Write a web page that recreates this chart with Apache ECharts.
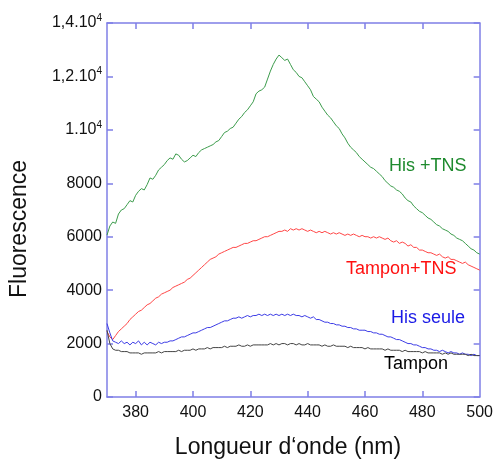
<!DOCTYPE html>
<html>
<head>
<meta charset="utf-8">
<script src="https://cdn.jsdelivr.net/npm/echarts@6/dist/echarts.min.js"></script>
<style>
html,body{margin:0;padding:0;background:#fff;}
#chart{width:496px;height:460px;}
</style>
</head>
<body>
<div id="chart"></div>
<script>
// Wavelength sampling grid (nm)
const wlStart = 370;
const wlStep = 1;

// Series values (one per nm, 370..500)
const hisTNS = [
6060,6400,6550,6500,6850,7000,7050,7200,7350,7300,
7550,7700,7800,7750,7950,8200,8150,8300,8500,8600,
8700,8850,8950,8900,9100,9050,8900,8800,8850,8950,
9050,9000,9150,9250,9300,9350,9400,9450,9550,9600,
9750,9900,9950,10050,10100,10250,10400,10500,10650,10750,
10900,11050,11350,11450,11500,11600,11900,12200,12450,12650,
12800,12700,12600,12650,12450,12250,12150,12000,11950,11800,
11650,11500,11250,11150,11050,10850,10700,10550,10450,10300,
10150,10050,9850,9700,9500,9350,9250,9150,9000,8900,
8800,8700,8600,8550,8450,8350,8250,8100,8000,7900,
7850,7750,7700,7600,7450,7350,7300,7150,7050,6950,
6900,6800,6700,6650,6550,6450,6400,6300,6250,6200,
6100,6050,5950,5900,5850,5750,5650,5550,5500,5400,
5350];
const tamponTNS = [
2450,2250,2150,2300,2450,2550,2650,2750,2900,3000,
3100,3200,3250,3350,3450,3500,3600,3700,3750,3850,
3900,3950,4000,4100,4150,4200,4250,4300,4400,4450,
4550,4650,4750,4850,4950,5050,5150,5200,5250,5350,
5400,5450,5500,5550,5600,5600,5650,5700,5750,5750,
5800,5850,5850,5900,5950,6000,6000,6050,6100,6150,
6200,6200,6250,6200,6300,6250,6300,6250,6300,6250,
6200,6250,6200,6150,6200,6150,6200,6150,6100,6150,
6100,6150,6100,6050,6100,6050,6100,6050,6000,6050,
6000,6000,5950,6000,5950,6000,5950,5900,5950,5850,
5800,5850,5750,5800,5750,5650,5700,5600,5600,5500,
5500,5450,5400,5400,5350,5300,5350,5250,5200,5250,
5150,5150,5100,5050,5000,5050,4950,4900,4850,4800,
4750];
const hisSeule = [
2750,2400,2100,2050,2000,2100,2000,2050,1950,2050,
2000,2100,1950,2050,1950,2050,2000,1950,2050,2000,
2050,2050,2100,2100,2150,2200,2250,2250,2300,2350,
2400,2400,2450,2500,2550,2600,2600,2650,2700,2750,
2800,2850,2850,2900,2950,2950,3000,2950,3000,3050,
3000,3050,3050,3100,3050,3100,3050,3100,3050,3100,
3050,3100,3050,3100,3050,3100,3050,3050,3000,3050,
3000,2950,3000,2900,2900,2850,2800,2800,2750,2750,
2700,2700,2650,2650,2600,2600,2550,2550,2500,2500,
2500,2450,2450,2400,2400,2350,2350,2300,2250,2250,
2200,2150,2150,2100,2050,2000,2000,1950,1950,1900,
1850,1850,1800,1800,1750,1750,1700,1750,1700,1650,
1700,1650,1650,1600,1650,1600,1600,1550,1600,1550,
1550];
const tampon = [
2500,2000,1800,1750,1750,1700,1700,1700,1650,1650,
1650,1650,1600,1650,1650,1650,1650,1650,1700,1650,
1700,1700,1700,1700,1700,1750,1700,1750,1750,1750,
1800,1750,1800,1800,1800,1850,1800,1850,1850,1850,
1850,1900,1850,1900,1900,1900,1950,1900,1900,1950,
1900,1950,1950,1950,1950,1950,1950,2000,1950,2000,
1950,2000,2000,1950,2000,2000,1950,2000,1950,1950,
2000,1950,1950,1950,1950,1900,1950,1900,1900,1950,
1900,1900,1900,1900,1850,1900,1850,1850,1850,1850,
1800,1850,1800,1800,1800,1800,1800,1750,1800,1750,
1750,1750,1750,1700,1750,1700,1700,1700,1700,1700,
1650,1700,1650,1650,1650,1650,1650,1600,1650,1600,
1650,1600,1600,1600,1600,1600,1550,1600,1550,1550,
1550];

// Axis ticks and labels
const xTicks = [380, 400, 420, 440, 460, 480];
const xLabels = [380, 400, 420, 440, 460, 480, 500];
const yTickValues = [0, 2000, 4000, 6000, 8000, 10000, 12000, 14000];
const yTickBase = ['0', '2000', '4000', '6000', '8000', '1.10', '1,2.10', '1,4.10'];
const yTickExp = ['', '', '', '', '', '4', '4', '4'];

const seriesNames = ['His +TNS', 'Tampon+TNS', 'His seule', 'Tampon'];
const xTitle = 'Longueur d\u2018onde (nm)';
const yTitle = 'Fluorescence';

function pairs(vals) {
  return vals.map((v, i) => [wlStart + i * wlStep, v]);
}

const FONT = 'Liberation Sans, Arial, sans-serif';
const axisCol = '#7f7fe6';
const chart = echarts.init(document.getElementById('chart'), null, {renderer: 'canvas'});

const grid = {left: 107, right: 15, top: 23, bottom: 63};

function yLabel(v) {
  const i = yTickValues.indexOf(v);
  if (i < 0) return '';
  if (yTickExp[i]) return '{b|' + yTickBase[i] + '}{s|' + yTickExp[i] + '}';
  return '{b|' + yTickBase[i] + '}';
}

const option = {
  animation: false,
  backgroundColor: '#fff',
  grid: grid,
  xAxis: [{
    type: 'value', min: 370, max: 500, position: 'bottom',
    axisLine: {show: true, onZero: false, lineStyle: {color: axisCol, width: 1.5}},
    axisTick: {show: true, inside: true, length: 6, customValues: xTicks, lineStyle: {color: axisCol, width: 1.5}},
    axisLabel: {show: true, customValues: xLabels, margin: 8, fontSize: 16, color: '#111', fontFamily: FONT},
    splitLine: {show: false}
  }, {
    type: 'value', min: 370, max: 500, position: 'top',
    axisLine: {show: true, onZero: false, lineStyle: {color: axisCol, width: 1.5}},
    axisTick: {show: true, inside: true, length: 6, customValues: xTicks, lineStyle: {color: axisCol, width: 1.5}},
    axisLabel: {show: false},
    splitLine: {show: false}
  }],
  yAxis: [{
    type: 'value', min: 0, max: 14000, interval: 2000, position: 'left',
    axisLine: {show: true, onZero: false, lineStyle: {color: axisCol, width: 1.5}},
    axisTick: {show: true, inside: true, length: 6, lineStyle: {color: axisCol, width: 1.5}},
    axisLabel: {
      show: true, margin: 5, formatter: yLabel,
      rich: {
        b: {fontSize: 16, color: '#111', fontFamily: FONT},
        s: {fontSize: 10, color: '#111', fontFamily: FONT, verticalAlign: 'top', padding: [0, 0, 10, 0]}
      }
    },
    splitLine: {show: false}
  }, {
    type: 'value', min: 0, max: 14000, interval: 2000, position: 'right',
    axisLine: {show: true, onZero: false, lineStyle: {color: axisCol, width: 1.5}},
    axisTick: {show: true, inside: true, length: 6, lineStyle: {color: axisCol, width: 1.5}},
    axisLabel: {show: false},
    splitLine: {show: false}
  }],
  series: [
    {name: seriesNames[0], type: 'line', data: pairs(hisTNS), showSymbol: false, lineStyle: {color: '#3c9c4c', width: 1}, itemStyle: {color: '#3c9c4c'}},
    {name: seriesNames[1], type: 'line', data: pairs(tamponTNS), showSymbol: false, lineStyle: {color: '#ff4646', width: 1}, itemStyle: {color: '#ff4646'}},
    {name: seriesNames[2], type: 'line', data: pairs(hisSeule), showSymbol: false, lineStyle: {color: '#3c3ce6', width: 1}, itemStyle: {color: '#3c3ce6'}},
    {name: seriesNames[3], type: 'line', data: pairs(tampon), showSymbol: false, lineStyle: {color: '#444', width: 1}, itemStyle: {color: '#444'}}
  ],
  graphic: [
    {type: 'text', left: 389, top: 157, style: {text: seriesNames[0], fill: '#1e8a2e', fontSize: 18, fontFamily: FONT}},
    {type: 'text', left: 346, top: 260, style: {text: seriesNames[1], fill: '#ff1010', fontSize: 18, fontFamily: FONT}},
    {type: 'text', left: 391, top: 309, style: {text: seriesNames[2], fill: '#1a1ae6', fontSize: 18, fontFamily: FONT}},
    {type: 'text', left: 384, top: 355, style: {text: seriesNames[3], fill: '#000', fontSize: 18, fontFamily: FONT}},
    {type: 'text', x: 288, y: 448, style: {text: xTitle, fill: '#111', fontSize: 23, align: 'center', verticalAlign: 'middle', fontFamily: FONT}},
    {type: 'text', x: 20, y: 229, rotation: Math.PI / 2, style: {text: yTitle, fill: '#111', fontSize: 23, align: 'center', verticalAlign: 'middle', fontFamily: FONT}}
  ]
};

chart.setOption(option);
</script>
</body>
</html>
